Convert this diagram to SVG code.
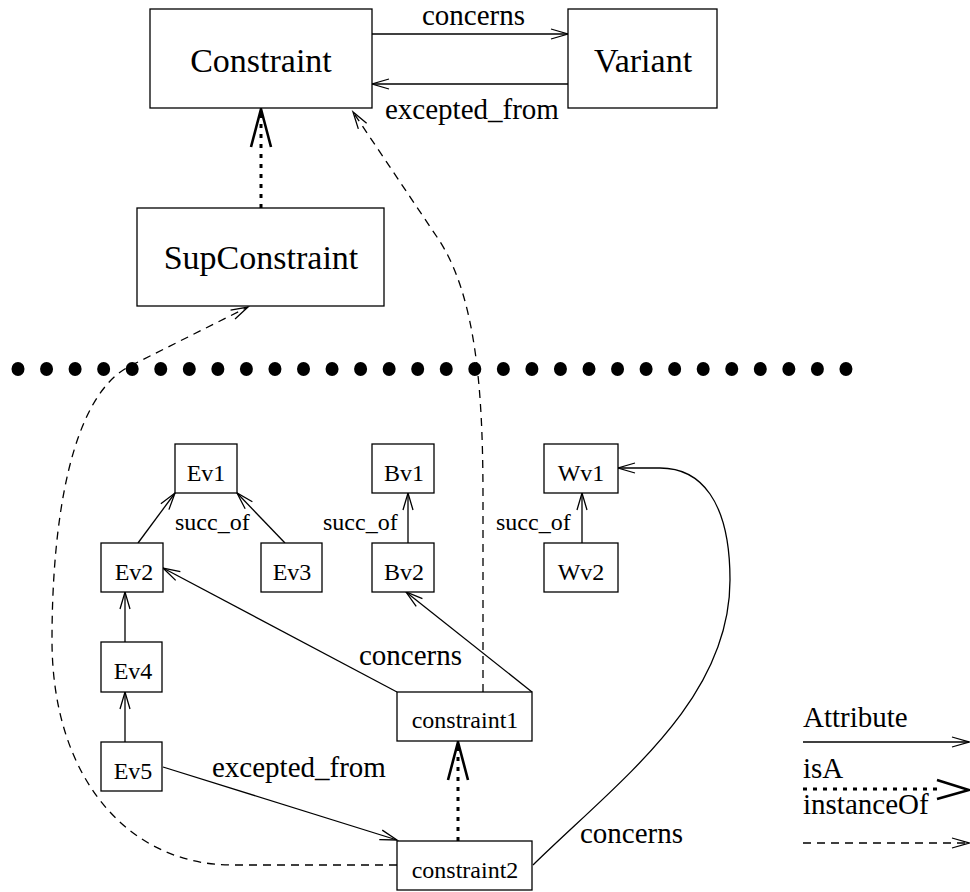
<svg xmlns="http://www.w3.org/2000/svg" width="970" height="892" viewBox="0 0 970 892">
  <style>
    text { font-family: "Liberation Serif", "Times New Roman", serif; fill: #000; }
    .big { font-size: 34px; text-anchor: middle; }
    .small { font-size: 24px; text-anchor: middle; }
    .lbl { font-size: 29px; }
    .sl { font-size: 24px; }
    rect { fill: #fff; stroke: #000; stroke-width: 1.3; }
    .attr { fill: none; stroke: #000; stroke-width: 1.3; marker-end: url(#open); }
    .inst { fill: none; stroke: #000; stroke-width: 1.3; stroke-dasharray: 8 6; marker-end: url(#open); }
    .isa { fill: none; stroke: #000; stroke-width: 3; stroke-dasharray: 4 6; marker-end: url(#isa); }
  </style>
  <defs>
    <marker id="open" markerUnits="userSpaceOnUse" viewBox="-20 -8 22 16" markerWidth="22" markerHeight="16" refX="0" refY="0" orient="auto" overflow="visible">
      <path d="M-17,-5 L0,0 L-17,5" fill="none" stroke="#000" stroke-width="1.3"/>
    </marker>
    <marker id="isa" markerUnits="userSpaceOnUse" viewBox="-42 -14 46 28" markerWidth="46" markerHeight="28" refX="0" refY="0" orient="auto" overflow="visible">
      <path d="M-38,-10 L0,0 L-38,10" fill="none" stroke="#000" stroke-width="2.6"/>
    </marker>
  </defs>

  <!-- connectors -->
  <g id="connectors">
    <!-- top level -->
    <path class="attr" d="M372,34 L568,34"/>
    <path class="attr" d="M568,84 L372,84"/>
    <path class="isa" d="M261,208 L261,109"/>
    <!-- constraint1 instanceOf Constraint -->
    <path class="inst" d="M483,692 L483,500 C483,400 478,297 437,237 L353,112"/>
    <!-- constraint2 instanceOf SupConstraint -->
    <path class="inst" d="M397,865 L232,865 C130,865 52,780 52,640 C52,520 71,396 130,366 L248,307"/>
    <!-- succ_of links -->
    <path class="attr" d="M138,543 L175,493"/>
    <path class="attr" d="M285,543 L237,493"/>
    <path class="attr" d="M408,543 L408,493"/>
    <path class="attr" d="M582,543 L582,493"/>
    <path class="attr" d="M125,642 L125,592"/>
    <path class="attr" d="M125,742 L125,692"/>
    <!-- constraint1 concerns -->
    <path class="attr" d="M397,692 L163,568"/>
    <path class="attr" d="M532,692 L406,592"/>
    <!-- constraint2 links -->
    <path class="attr" d="M163,767 L397,840"/>
    <path class="isa" d="M458,841 L458,742"/>
    <path class="attr" d="M533,865 C620,780 730,700 730,580 C730,500 700,468 660,468 L618,468"/>
  </g>

  <!-- level separator -->
  <g id="separator" fill="#000">
    <ellipse cx="18" cy="369" rx="6.5" ry="7"/>
    <ellipse cx="46.55" cy="369" rx="6.5" ry="7"/>
    <ellipse cx="75.1" cy="369" rx="6.5" ry="7"/>
    <ellipse cx="103.65" cy="369" rx="6.5" ry="7"/>
    <ellipse cx="132.2" cy="369" rx="6.5" ry="7"/>
    <ellipse cx="160.75" cy="369" rx="6.5" ry="7"/>
    <ellipse cx="189.3" cy="369" rx="6.5" ry="7"/>
    <ellipse cx="217.85" cy="369" rx="6.5" ry="7"/>
    <ellipse cx="246.4" cy="369" rx="6.5" ry="7"/>
    <ellipse cx="274.95" cy="369" rx="6.5" ry="7"/>
    <ellipse cx="303.5" cy="369" rx="6.5" ry="7"/>
    <ellipse cx="332.05" cy="369" rx="6.5" ry="7"/>
    <ellipse cx="360.6" cy="369" rx="6.5" ry="7"/>
    <ellipse cx="389.15" cy="369" rx="6.5" ry="7"/>
    <ellipse cx="417.7" cy="369" rx="6.5" ry="7"/>
    <ellipse cx="446.25" cy="369" rx="6.5" ry="7"/>
    <ellipse cx="474.8" cy="369" rx="6.5" ry="7"/>
    <ellipse cx="503.35" cy="369" rx="6.5" ry="7"/>
    <ellipse cx="531.9" cy="369" rx="6.5" ry="7"/>
    <ellipse cx="560.45" cy="369" rx="6.5" ry="7"/>
    <ellipse cx="589" cy="369" rx="6.5" ry="7"/>
    <ellipse cx="617.55" cy="369" rx="6.5" ry="7"/>
    <ellipse cx="646.1" cy="369" rx="6.5" ry="7"/>
    <ellipse cx="674.65" cy="369" rx="6.5" ry="7"/>
    <ellipse cx="703.2" cy="369" rx="6.5" ry="7"/>
    <ellipse cx="731.75" cy="369" rx="6.5" ry="7"/>
    <ellipse cx="760.3" cy="369" rx="6.5" ry="7"/>
    <ellipse cx="788.85" cy="369" rx="6.5" ry="7"/>
    <ellipse cx="817.4" cy="369" rx="6.5" ry="7"/>
    <ellipse cx="845.95" cy="369" rx="6.5" ry="7"/>
  </g>

  <!-- edge labels -->
  <g id="labels">
    <text class="lbl" x="422" y="25">concerns</text>
    <text class="lbl" x="385" y="119">excepted_from</text>
    <text class="sl" x="175" y="530">succ_of</text>
    <text class="sl" x="323" y="530">succ_of</text>
    <text class="sl" x="496" y="530">succ_of</text>
    <text class="lbl" x="359" y="665">concerns</text>
    <text class="lbl" x="212" y="777">excepted_from</text>
    <text class="lbl" x="580" y="843">concerns</text>
  </g>

  <!-- nodes -->
  <g id="Constraint"><rect x="150" y="9" width="222" height="99"/><text class="big" x="261" y="72">Constraint</text></g>
  <g id="Variant"><rect x="568" y="9" width="149" height="99"/><text class="big" x="643" y="72">Variant</text></g>
  <g id="SupConstraint"><rect x="137" y="208" width="247" height="98"/><text class="big" x="261" y="269">SupConstraint</text></g>
  <g id="Ev1"><rect x="175" y="444" width="62" height="49"/><text class="small" x="206" y="481">Ev1</text></g>
  <g id="Ev2"><rect x="101" y="543" width="62" height="49"/><text class="small" x="134" y="580">Ev2</text></g>
  <g id="Ev3"><rect x="261" y="543" width="61" height="49"/><text class="small" x="292" y="580">Ev3</text></g>
  <g id="Ev4"><rect x="101" y="642" width="61" height="50"/><text class="small" x="133" y="679">Ev4</text></g>
  <g id="Ev5"><rect x="101" y="742" width="61" height="49"/><text class="small" x="133" y="779">Ev5</text></g>
  <g id="Bv1"><rect x="372" y="444" width="62" height="49"/><text class="small" x="404" y="481">Bv1</text></g>
  <g id="Bv2"><rect x="372" y="543" width="62" height="49"/><text class="small" x="404" y="580">Bv2</text></g>
  <g id="Wv1"><rect x="544" y="444" width="74" height="49"/><text class="small" x="581" y="481">Wv1</text></g>
  <g id="Wv2"><rect x="544" y="543" width="74" height="49"/><text class="small" x="581" y="580">Wv2</text></g>
  <g id="constraint1"><rect x="397" y="692" width="135" height="49"/><text class="small" x="465" y="728">constraint1</text></g>
  <g id="constraint2"><rect x="397" y="841" width="135" height="49"/><text class="small" x="465" y="878">constraint2</text></g>

  <!-- legend -->
  <g id="legend">
    <text class="lbl" x="803" y="727">Attribute</text>
    <path class="attr" d="M803,742 L969,742"/>
    <text class="lbl" x="803" y="778">isA</text>
    <path d="M803,789 L937,789" fill="none" stroke="#000" stroke-width="3" stroke-dasharray="4 6"/>
    <path d="M937,780 L969,790 L937,799" fill="none" stroke="#000" stroke-width="2.6"/>
    <text class="lbl" x="803" y="814">instanceOf</text>
    <path class="inst" d="M803,843 L969,843"/>
  </g>
</svg>
